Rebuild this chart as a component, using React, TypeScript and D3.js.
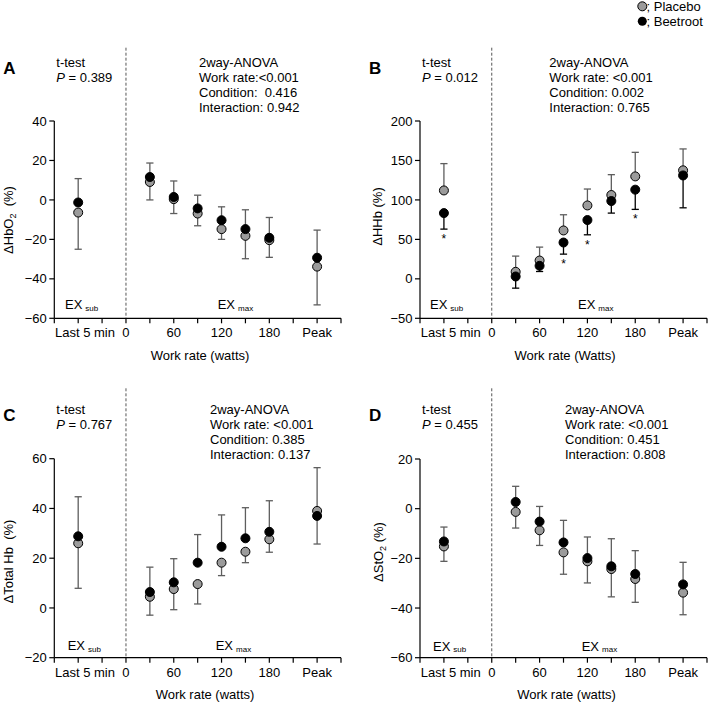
import React from "react";
import * as d3 from "d3";

// ---------- shared categories ----------
const stages = ["Last 5 min", "30", "60", "90", "120", "150", "180", "Peak"];
const stagePos = [1, 4, 5, 6, 7, 8, 9, 11];
const xTickPos = [0, 1, 2, 3, 4, 5, 6, 7, 8, 9, 10, 11, 12];
const xLabelText = ["0", "60", "120", "180", "Peak"];
const xLabelPos = [3, 5, 7, 9, 11];

// ---------- A: HbO2 ----------
const hbo2Placebo = [-6.4, 9.1, 0.4, -6.9, -14.8, -18.2, -20.4, -33.8];
const hbo2PlaceboSD = [18.6, 9.1, 7.3, 6.2, 5.2, 11.6, 8.7, 19.4];
const hbo2Beetroot = [-1.3, 11.6, 1.5, -4.3, -10.3, -14.8, -19.2, -29.3];
const hbo2BeetrootSD = [12.1, 7.1, 8.1, 6.7, 6.8, 9.8, 10.3, 14.0];
const hbo2Ticks = [-60, -40, -20, 0, 20, 40];

// ---------- B: HHb ----------
const hhbPlacebo = [112, 8.9, 23.2, 61.3, 93, 106.2, 129.8, 137.5];
const hhbPlaceboSD = [34, 19.9, 17, 19.9, 20.8, 25.8, 30.5, 27.1];
const hhbBeetroot = [83.3, 3, 16.5, 46, 74.5, 98.6, 113, 131];
const hhbBeetrootSD = [20.3, 14.8, 7.2, 14.7, 18.7, 15.3, 25, 41];
const hhbStars = [true, false, false, true, true, false, true, false];
const hhbTicks = [-50, 0, 50, 100, 150, 200];

// ---------- C: Total Hb ----------
const thbPlacebo = [26, 4.5, 7.6, 9.6, 18.2, 22.6, 27.6, 39];
const thbPlaceboSD = [18.1, 7.4, 8.3, 8, 5.2, 4.4, 5.2, 13.3];
const thbBeetroot = [28.8, 6.4, 10.3, 18.2, 24.6, 28, 30.6, 37];
const thbBeetrootSD = [15.9, 10, 9.5, 11.3, 12.8, 12.3, 12.5, 19.4];
const thbTicks = [-20, 0, 20, 40, 60];

// ---------- D: StO2 ----------
const sto2Placebo = [-15.2, -1.3, -8.7, -17.6, -21.2, -24.3, -28.3, -33.8];
const sto2PlaceboSD = [6, 6.5, 6.1, 8.8, 8.7, 11.2, 9.4, 8.9];
const sto2Beetroot = [-13.2, 2.7, -5.2, -13.6, -19.9, -23.2, -26.3, -30.5];
const sto2BeetrootSD = [5.8, 6.3, 6.1, 8.9, 8.5, 11.1, 9.4, 8.9];
const sto2Ticks = [-60, -40, -20, 0, 20];

const FONT = "'Liberation Sans', Arial, Helvetica, sans-serif";
const GRAY_FILL = "#9b9b9b";
const ERR_GRAY = "#5e5e5e";

type PanelProps = {
  letter: string;
  x0: number;
  x1: number;
  yTop: number;
  yBot: number;
  ticks: number[];
  placebo: number[];
  placeboSD: number[];
  beetroot: number[];
  beetrootSD: number[];
  placeboUp: boolean;
  beetrootErrColor: string;
  stars?: boolean[];
  tTestP: string;
  anova: string[];
  anovaDx: number;
  textTop: number;
  dashTop: number;
  yTitle: React.ReactNode;
  yTitleX: number;
  yTitleY: number;
  xTitle: string;
  xTitleX: number;
  xTitleY: number;
  exY: number;
  exSubDx: number;
  exMaxDx: number;
};

function Panel(p: PanelProps) {
  const x = d3.scaleLinear().domain([0, 12]).range([p.x0, p.x1]);
  const y = d3
    .scaleLinear()
    .domain([p.ticks[0], p.ticks[p.ticks.length - 1]])
    .range([p.yBot, p.yTop]);
  const cap = 3.6;
  const r = 4.5;

  const errBar = (i: number, mean: number, sd: number, up: boolean, color: string, key: string) => {
    const cx = x(stagePos[i]);
    const end = up ? mean + sd : mean - sd;
    return (
      <g key={key} stroke={color} strokeWidth={1.3}>
        <line x1={cx} x2={cx} y1={y(mean)} y2={y(end)} />
        <line x1={cx - cap} x2={cx + cap} y1={y(end)} y2={y(end)} />
      </g>
    );
  };

  return (
    <g fontFamily={FONT}>
      {/* panel letter */}
      <text x={p.x0 - 51} y={p.textTop + 7.3} fontSize={17} fontWeight="bold">
        {p.letter}
      </text>
      {/* dashed separator */}
      <line
        x1={x(3)}
        x2={x(3)}
        y1={p.dashTop}
        y2={p.yBot}
        stroke="#555"
        strokeWidth={1}
        strokeDasharray="3,2"
      />
      {/* stats text */}
      <text x={p.x0 + 2} y={p.textTop} fontSize={13}>
        t-test
      </text>
      <text x={p.x0 + 2} y={p.textTop + 15} fontSize={13}>
        <tspan fontStyle="italic">P</tspan>
        <tspan> = {p.tTestP}</tspan>
      </text>
      {p.anova.map((s, i) => (
        <text key={s} x={p.x0 + p.anovaDx} y={p.textTop + 15 * i} fontSize={13} style={{ whiteSpace: "pre" }}>
          {s}
        </text>
      ))}
      {/* y axis */}
      <line x1={p.x0} x2={p.x0} y1={y(p.ticks[p.ticks.length - 1])} y2={y(p.ticks[0])} stroke="#000" strokeWidth={1.2} />
      {p.ticks.map((t) => (
        <g key={"yt" + t}>
          <line x1={p.x0 - 5} x2={p.x0} y1={y(t)} y2={y(t)} stroke="#000" strokeWidth={1.2} />
          <text x={p.x0 - 7.5} y={y(t) + 4.6} fontSize={13} textAnchor="end">
            {t < 0 ? "\u2212" + Math.abs(t) : String(t)}
          </text>
        </g>
      ))}
      {/* x axis */}
      <line x1={p.x0} x2={p.x1} y1={p.yBot} y2={p.yBot} stroke="#000" strokeWidth={1.2} />
      {xTickPos.map((t) => (
        <line key={"xt" + t} x1={x(t)} x2={x(t)} y1={p.yBot} y2={p.yBot + 5} stroke="#000" strokeWidth={1.2} />
      ))}
      <text x={x(3) - 11} y={p.yBot + 19} fontSize={13} textAnchor="end">
        {stages[0]}
      </text>
      {xLabelText.map((s, i) => (
        <text key={"xl" + s} x={x(xLabelPos[i])} y={p.yBot + 19} fontSize={13} textAnchor="middle">
          {s}
        </text>
      ))}
      {/* axis titles */}
      <text x={p.xTitleX} y={p.xTitleY} fontSize={13} textAnchor="middle">
        {p.xTitle}
      </text>
      <text
        transform={`translate(${p.yTitleX},${p.yTitleY}) rotate(-90)`}
        fontSize={13}
        textAnchor="middle"
        style={{ whiteSpace: "pre" }}
      >
        {p.yTitle}
      </text>
      {/* EX labels */}
      <text x={p.x0 + p.exSubDx} y={p.exY} fontSize={13}>
        EX<tspan fontSize={8} dx={3} dy={1.5}>sub</tspan>
      </text>
      <text x={p.x0 + p.exMaxDx} y={p.exY} fontSize={13}>
        EX<tspan fontSize={8} dx={3} dy={1.5}>max</tspan>
      </text>
      {/* error bars */}
      {p.placebo.map((m, i) => errBar(i, m, p.placeboSD[i], p.placeboUp, ERR_GRAY, "pe" + i))}
      {p.beetroot.map((m, i) => errBar(i, m, p.beetrootSD[i], !p.placeboUp, p.beetrootErrColor, "be" + i))}
      {/* stars */}
      {p.stars &&
        p.stars.map((s, i) =>
          s ? (
            <text
              key={"st" + i}
              x={x(stagePos[i])}
              y={y(p.beetroot[i] - p.beetrootSD[i]) + 14}
              fontSize={12}
              textAnchor="middle"
            >
              *
            </text>
          ) : null
        )}
      {/* points */}
      {p.placebo.map((m, i) => (
        <circle key={"pc" + i} cx={x(stagePos[i])} cy={y(m)} r={r} fill={GRAY_FILL} stroke="#000" strokeWidth={1} />
      ))}
      {p.beetroot.map((m, i) => (
        <circle key={"bc" + i} cx={x(stagePos[i])} cy={y(m)} r={r} fill="#000" stroke="#000" strokeWidth={1} />
      ))}
    </g>
  );
}

const sub2 = (
  <tspan fontSize={9} dy={3}>
    2
  </tspan>
);

export default function App() {
  return (
    <svg
      width={709}
      height={704}
      style={{ position: "absolute", left: 0, top: 0, background: "#fff" }}
    >
      <rect width={709} height={704} fill="#fff" />
      {/* legend */}
      <g fontFamily={FONT} fontSize={13}>
        <circle cx={642.3} cy={6.3} r={4.5} fill={GRAY_FILL} stroke="#000" strokeWidth={1} />
        <text x={646.5} y={10.8}>; Placebo</text>
        <circle cx={642.3} cy={21.3} r={4.5} fill="#000" />
        <text x={646.5} y={25.8}>; Beetroot</text>
      </g>
      <Panel
        letter="A"
        x0={54.3}
        x1={341}
        yTop={121}
        yBot={318.3}
        ticks={hbo2Ticks}
        placebo={hbo2Placebo}
        placeboSD={hbo2PlaceboSD}
        beetroot={hbo2Beetroot}
        beetrootSD={hbo2BeetrootSD}
        placeboUp={false}
        beetrootErrColor={ERR_GRAY}
        tTestP="0.389"
        anova={["2way-ANOVA", "Work rate:<0.001", "Condition:  0.416", "Interaction: 0.942"]}
        anovaDx={144.7}
        textTop={66.7}
        dashTop={47.7}
        yTitle={
          <>
            <tspan>ΔHbO</tspan>
            {sub2}
            <tspan dy={-3}>  (%)</tspan>
          </>
        }
        yTitleX={13}
        yTitleY={220}
        xTitle="Work rate (watts)"
        xTitleX={200}
        xTitleY={359.5}
        exY={309.3}
        exSubDx={10.7}
        exMaxDx={163.4}
      />
      <Panel
        letter="B"
        x0={420}
        x1={707}
        yTop={121}
        yBot={318.3}
        ticks={hhbTicks}
        placebo={hhbPlacebo}
        placeboSD={hhbPlaceboSD}
        beetroot={hhbBeetroot}
        beetrootSD={hhbBeetrootSD}
        placeboUp={true}
        beetrootErrColor="#000"
        stars={hhbStars}
        tTestP="0.012"
        anova={["2way-ANOVA", "Work rate: <0.001", "Condition: 0.002", "Interaction: 0.765"]}
        anovaDx={129.3}
        textTop={66.7}
        dashTop={47.7}
        yTitle={<tspan>ΔHHb (%)</tspan>}
        yTitleX={381.7}
        yTitleY={216.5}
        xTitle="Work rate (Watts)"
        xTitleX={565}
        xTitleY={359.5}
        exY={309.3}
        exSubDx={10}
        exMaxDx={158}
      />
      <Panel
        letter="C"
        x0={54.3}
        x1={341}
        yTop={458.7}
        yBot={657.7}
        ticks={thbTicks}
        placebo={thbPlacebo}
        placeboSD={thbPlaceboSD}
        beetroot={thbBeetroot}
        beetrootSD={thbBeetrootSD}
        placeboUp={false}
        beetrootErrColor={ERR_GRAY}
        tTestP="0.767"
        anova={["2way-ANOVA", "Work rate: <0.001", "Condition: 0.385", "Interaction: 0.137"]}
        anovaDx={155.7}
        textTop={413.5}
        dashTop={388.3}
        yTitle={<tspan>ΔTotal Hb  (%)</tspan>}
        yTitleX={13.3}
        yTitleY={561.5}
        xTitle="Work rate (watts)"
        xTitleX={205}
        xTitleY={698.5}
        exY={650}
        exSubDx={13.4}
        exMaxDx={161.4}
      />
      <Panel
        letter="D"
        x0={420}
        x1={707}
        yTop={459}
        yBot={657.7}
        ticks={sto2Ticks}
        placebo={sto2Placebo}
        placeboSD={sto2PlaceboSD}
        beetroot={sto2Beetroot}
        beetrootSD={sto2BeetrootSD}
        placeboUp={false}
        beetrootErrColor={ERR_GRAY}
        tTestP="0.455"
        anova={["2way-ANOVA", "Work rate: <0.001", "Condition: 0.451", "Interaction: 0.808"]}
        anovaDx={145}
        textTop={413.5}
        dashTop={388.3}
        yTitle={
          <>
            <tspan>ΔStO</tspan>
            {sub2}
            <tspan dy={-3}> (%)</tspan>
          </>
        }
        yTitleX={383}
        yTitleY={552}
        xTitle="Work rate (watts)"
        xTitleX={566.5}
        xTitleY={698.5}
        exY={650.7}
        exSubDx={13}
        exMaxDx={161.7}
      />
    </svg>
  );
}
